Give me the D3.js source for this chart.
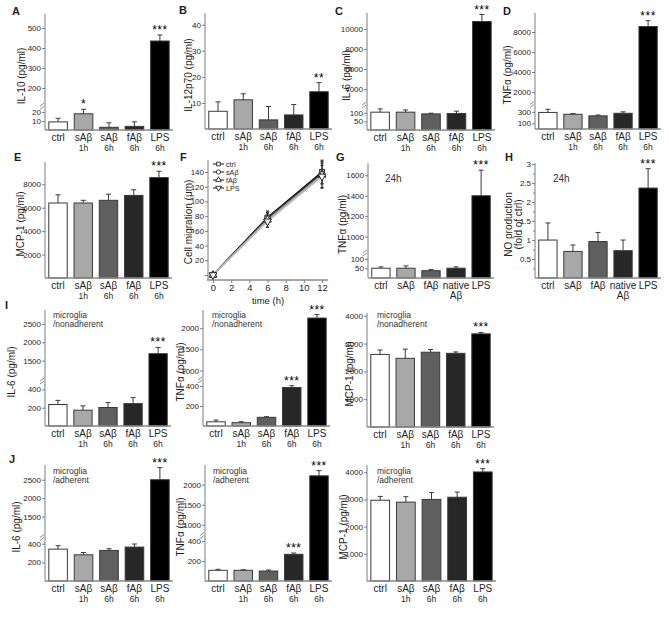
<!DOCTYPE html>
<html>
<head>
<meta charset="utf-8">
<script src="https://cdn.jsdelivr.net/npm/d3@7"></script>
<style>
body { margin: 0; background: #fff; }
svg { font-family: "Liberation Sans", Arial, sans-serif; }
</style>
</head>
<body>
<svg id="fig" width="669" height="618"></svg>
<script>
// categories
var catsTime = [["ctrl"], ["sAβ", "1h"], ["sAβ", "6h"], ["fAβ", "6h"], ["LPS", "6h"]];
var cats24 = [["ctrl"], ["sAβ"], ["fAβ"], ["native", "Aβ"], ["LPS"]];

// row 1-2 values (mean, error)
var il10 = [9, 18, 3, 4, 435], il10Err = [4, 5, 5, 5, 30], il10Stars = ["", "*", "", "", "***"];
var il12 = [6.8, 11.2, 3.5, 5.4, 14.3], il12Err = [3.6, 2.3, 5.1, 4.0, 3.5], il12Stars = ["", "", "", "", "**"];
var il6 = [104, 104, 94, 96, 10750], il6Err = [19, 13, 4, 14, 700];
var tnf = [290, 258, 230, 275, 8550], tnfErr = [55, 12, 15, 25, 580];
var mcp = [6400, 6400, 6630, 7050, 8570], mcpErr = [700, 230, 520, 480, 540];
var tnf24 = [51, 51, 38, 51, 1400], tnf24Err = [7, 12, 6, 7, 250];
var no24 = [1.0, 0.7, 0.96, 0.72, 2.37], no24Err = [0.45, 0.17, 0.24, 0.28, 0.51];
var lpsStars = ["", "", "", "", "***"];

// migration (F)
var migTime = [0, 6, 12];
var migNames = ["ctrl", "sAβ", "fAβ", "LPS"];
var migCtrl = [0, 78, 140], migCtrlErr = [0, 9, 16];
var migSab = [0, 77, 138], migSabErr = [0, 7, 14];
var migFab = [0, 75, 136], migFabErr = [0, 10, 18];
var migLps = [0, 73, 134], migLpsErr = [0, 8, 15];

// row I: nonadherent microglia
var il6Non = [235, 173, 202, 245, 1690], il6NonErr = [45, 47, 54, 65, 170];
var tnfNon = [42, 33, 87, 385, 2240], tnfNonErr = [18, 10, 6, 18, 80];
var mcpNon = [2610, 2470, 2690, 2650, 3350], mcpNonErr = [160, 330, 100, 50, 50];
// row J: adherent microglia
var il6Adh = [342, 281, 328, 364, 2500], il6AdhErr = [37, 25, 18, 33, 330];
var tnfAdh = [107, 107, 100, 267, 2220], tnfAdhErr = [10, 6, 10, 13, 130];
var mcpAdh = [2970, 2900, 3000, 3080, 4010], mcpAdhErr = [140, 200, 250, 190, 120];
var fabLpsStars = ["", "", "", "***", "***"];

// tick labels
var ticksA = [10, 20, 200, 300, 400, 500];
var ticksB = [10, 20, 30, 40];
var ticksC = [50, 100, 4000, 6000, 8000, 10000];
var ticksD = [100, 300, 2000, 4000, 6000, 8000];
var ticksE = [2000, 4000, 6000, 8000];
var ticksFy = [0, 20, 40, 60, 80, 100, 120, 140];
var ticksFx = [0, 2, 4, 6, 8, 10, 12];
var ticksG = [50, 100, 1000, 1200, 1400, 1600];
var ticksH = [0.5, 1, 1.5, 2, 2.5, 3];
var ticksIL6row = [200, 400, 1500, 2000, 2500];
var ticksTNFrow = [200, 400, 1000, 1500, 2000];
var ticksMCProw = [1000, 2000, 3000, 4000];

var svg = d3.select("#fig");
var fontFam = "Liberation Sans, Arial, sans-serif";
var ink = "#1e1e1e", axisCol = "#7d7d7d", barEdge = "#3a3a3a";
var fills = ["#ffffff", "#a8a8a8", "#5f5f5f", "#272727", "#000000"];
var plain = d3.format("");

function letter(t, x, y) {
    svg.append("text").attr("x", x).attr("y", y).attr("font-size", 11)
        .attr("font-weight", "bold").attr("fill", ink).text(t);
}

function styleAxis(a, size) {
    a.attr("font-family", fontFam);
    a.select(".domain").remove();
    a.selectAll("line").attr("stroke", axisCol);
    a.selectAll("text").attr("font-size", size).attr("fill", ink);
}

function yLabel(g, lines, x, cy) {
    lines.forEach(function (t, i) {
        g.append("text")
            .attr("transform", "translate(" + (x + i * 10) + "," + cy + ") rotate(-90)")
            .attr("text-anchor", "middle").attr("dy", "0.35em")
            .attr("font-size", 10).attr("fill", ink).text(t);
    });
}

function barPanel(p) {
    var g = svg.append("g");
    var n = p.values.length;
    var x = d3.scaleBand().domain(d3.range(n)).range([p.ax, p.right])
        .paddingInner(0.27).paddingOuter(0.15);
    var segs = p.segs.map(function (s) { return d3.scaleLinear().domain(s.d).range(s.r); });
    function y(v) {
        for (var i = 0; i < segs.length - 1; i++) {
            if (v <= segs[i].domain()[1]) return segs[i](v);
        }
        return segs[segs.length - 1](v);
    }

    // y axis, one d3 axis per segment
    segs.forEach(function (s) {
        var dom = s.domain();
        var tv = p.ticks.filter(function (t) { return t >= dom[0] && t <= dom[1]; });
        var a = g.append("g").attr("transform", "translate(" + p.ax + ",0)")
            .call(d3.axisLeft(s).tickValues(tv).tickSize(3).tickSizeOuter(0).tickPadding(1).tickFormat(plain));
        styleAxis(a, 8);
        if (p.minor) {
            var m = g.append("g").attr("transform", "translate(" + p.ax + ",0)")
                .call(d3.axisLeft(s).tickValues(p.minor).tickSize(2).tickFormat(""));
            styleAxis(m, 8);
        }
    });
    g.append("line").attr("x1", p.ax).attr("x2", p.ax)
        .attr("y1", p.segs[p.segs.length - 1].r[1]).attr("y2", p.bottom)
        .attr("stroke", axisCol).attr("stroke-width", 1);

    // break marks
    for (var i = 0; i < segs.length - 1; i++) {
        var yb = (p.segs[i].r[1] + p.segs[i + 1].r[0]) / 2;
        [-1.5, 1.5].forEach(function (o) {
            g.append("line").attr("x1", p.ax - 5).attr("y1", yb + o + 1.5)
                .attr("x2", p.ax - 1).attr("y2", yb + o - 1.5)
                .attr("stroke", axisCol).attr("stroke-width", 0.9);
        });
    }

    // bars
    g.selectAll("rect.bar").data(p.values).join("rect").attr("class", "bar")
        .attr("x", function (d, i) { return x(i); })
        .attr("width", x.bandwidth())
        .attr("y", function (d) { return y(d); })
        .attr("height", function (d) { return p.bottom - y(d); })
        .attr("fill", function (d, i) { return fills[i]; })
        .attr("stroke", barEdge).attr("stroke-width", 1);

    // error bars (upper only)
    p.values.forEach(function (d, i) {
        var cx = x(i) + x.bandwidth() / 2;
        var yt = y(d + p.err[i]);
        g.append("line").attr("x1", cx).attr("x2", cx).attr("y1", y(d)).attr("y2", yt)
            .attr("stroke", barEdge).attr("stroke-width", 1);
        g.append("line").attr("x1", cx - 2.5).attr("x2", cx + 2.5).attr("y1", yt).attr("y2", yt)
            .attr("stroke", barEdge).attr("stroke-width", 1);
        if (p.stars && p.stars[i]) {
            g.append("text").attr("x", cx).attr("y", yt - 1).attr("text-anchor", "middle")
                .attr("font-size", 12).attr("letter-spacing", 0.5).attr("fill", "#000")
                .text(p.stars[i]);
        }
    });

    // x axis line
    g.append("line").attr("x1", p.ax).attr("x2", p.right).attr("y1", p.bottom).attr("y2", p.bottom)
        .attr("stroke", "#8a8a8a").attr("stroke-width", 1.6);

    // category labels
    p.cats.forEach(function (c, i) {
        var cx = x(i) + x.bandwidth() / 2;
        c.forEach(function (t, k) {
            g.append("text").attr("x", cx).attr("y", p.bottom + 11 + k * 9.5)
                .attr("text-anchor", "middle")
                .attr("font-size", k === 0 ? 10 : (p.subSize || 8.5))
                .attr("fill", ink).text(t);
        });
    });

    yLabel(g, p.ylabel, p.ylx, (p.segs[p.segs.length - 1].r[1] + p.bottom) / 2 + 4);

    if (p.note) {
        p.note.forEach(function (t, k) {
            g.append("text").attr("x", p.noteX).attr("y", p.noteY + k * 9)
                .attr("font-size", p.noteSize || 8.5).attr("fill", "#333").text(t);
        });
    }
}

function migrationPanel() {
    var g = svg.append("g");
    var ax = 208, top = 160, bottom = 280, right = 328;
    var x = d3.scaleLinear().domain([0, 12]).range([213, 322]);
    var y = d3.scaleLinear().domain([0, 140]).range([275, 172]);

    var ya = g.append("g").attr("transform", "translate(" + ax + ",0)")
        .call(d3.axisLeft(y).tickValues(ticksFy).tickSize(3).tickPadding(1)
            .tickFormat(function (d) { return d === 0 ? "" : d; }));
    styleAxis(ya, 8);
    g.append("line").attr("x1", ax).attr("x2", ax).attr("y1", top).attr("y2", bottom)
        .attr("stroke", axisCol);

    var xa = g.append("g").attr("transform", "translate(0," + bottom + ")")
        .call(d3.axisBottom(x).tickValues(ticksFx).tickSize(3).tickPadding(1));
    styleAxis(xa, 9.5);
    g.append("line").attr("x1", ax - 1).attr("x2", right).attr("y1", bottom).attr("y2", bottom)
        .attr("stroke", "#8a8a8a").attr("stroke-width", 1.6);

    var series = [
        { v: migCtrl, e: migCtrlErr, sym: d3.symbolSquare, rot: 0, col: "#000" },
        { v: migSab, e: migSabErr, sym: d3.symbolCircle, rot: 0, col: "#333" },
        { v: migFab, e: migFabErr, sym: d3.symbolTriangle, rot: 0, col: "#999" },
        { v: migLps, e: migLpsErr, sym: d3.symbolTriangle, rot: 180, col: "#bbb" }
    ];
    var line = d3.line().x(function (d, i) { return x(migTime[i]); }).y(function (d) { return y(d); });
    series.forEach(function (s) {
        g.append("path").datum(s.v).attr("d", line).attr("fill", "none")
            .attr("stroke", s.col).attr("stroke-width", 1.6);
    });
    series.forEach(function (s) {
        s.v.forEach(function (d, i) {
            if (s.e[i] > 0) {
                var cx = x(migTime[i]);
                g.append("line").attr("x1", cx).attr("x2", cx).attr("y1", y(d - s.e[i])).attr("y2", y(d + s.e[i]))
                    .attr("stroke", "#333").attr("stroke-width", 0.8);
                [d - s.e[i], d + s.e[i]].forEach(function (t) {
                    g.append("line").attr("x1", cx - 1.5).attr("x2", cx + 1.5).attr("y1", y(t)).attr("y2", y(t))
                        .attr("stroke", "#333").attr("stroke-width", 1.2);
                });
            }
        });
    });
    series.forEach(function (s) {
        s.v.forEach(function (d, i) {
            g.append("path").attr("d", d3.symbol().type(s.sym).size(26)())
                .attr("transform", "translate(" + x(migTime[i]) + "," + y(d) + ") rotate(" + s.rot + ")")
                .attr("fill", "#fff").attr("stroke", "#111").attr("stroke-width", 0.9);
        });
    });

    // legend
    migNames.forEach(function (name, i) {
        var ly = 164 + i * 8;
        g.append("line").attr("x1", 213).attr("x2", 224).attr("y1", ly).attr("y2", ly)
            .attr("stroke", "#111").attr("stroke-width", 1);
        g.append("path").attr("d", d3.symbol().type(series[i].sym).size(14)())
            .attr("transform", "translate(218.5," + ly + ") rotate(" + series[i].rot + ")")
            .attr("fill", "#fff").attr("stroke", "#111").attr("stroke-width", 0.8);
        g.append("text").attr("x", 226).attr("y", ly + 2.6).attr("font-size", 7.2)
            .attr("fill", ink).text(name);
    });

    g.append("text").attr("x", 268).attr("y", 304).attr("text-anchor", "middle")
        .attr("font-size", 9.5).attr("fill", ink).text("time (h)");
    yLabel(g, ["Cell migration (μm)"], 188, 222);
}

// row 1
barPanel({ ax: 45, right: 173, bottom: 130, values: il10, err: il10Err, stars: il10Stars, cats: catsTime,
    segs: [{ d: [0, 25], r: [130, 107.5] }, { d: [115, 570], r: [105, 14] }], ticks: ticksA,
    ylabel: ["IL-10 (pg/ml)"], ylx: 21 });
barPanel({ ax: 205, right: 332, bottom: 129, values: il12, err: il12Err, stars: il12Stars, cats: catsTime,
    segs: [{ d: [0, 44.5], r: [129, 13] }], ticks: ticksB,
    ylabel: ["IL-12p70 (pg/ml)"], ylx: 188 });
barPanel({ ax: 367, right: 495, bottom: 130, values: il6, err: il6Err, stars: lpsStars, cats: catsTime,
    segs: [{ d: [0, 140], r: [130, 106] }, { d: [2500, 11600], r: [104, 13] }], ticks: ticksC,
    ylabel: ["IL-6 (pg/ml)"], ylx: 346 });
barPanel({ ax: 535, right: 661, bottom: 129, values: tnf, err: tnfErr, stars: lpsStars, cats: catsTime,
    segs: [{ d: [0, 420], r: [129, 105] }, { d: [800, 9900], r: [104, 13] }], ticks: ticksD,
    ylabel: ["TNFα (pg/ml)"], ylx: 507 });

// row 2
barPanel({ ax: 45, right: 172, bottom: 278, values: mcp, err: mcpErr, stars: lpsStars, cats: catsTime,
    segs: [{ d: [0, 9900], r: [278, 162] }], ticks: ticksE,
    ylabel: ["MCP-1 (pg/ml)"], ylx: 20 });
migrationPanel();
barPanel({ ax: 368, right: 494, bottom: 278, values: tnf24, err: tnf24Err, stars: lpsStars, cats: cats24,
    segs: [{ d: [0, 125], r: [278, 254] }, { d: [850, 1720], r: [252, 163] }], ticks: ticksG,
    ylabel: ["TNFα (pg/ml)"], ylx: 342, subSize: 10,
    note: ["24h"], noteX: 385, noteY: 182, noteSize: 10 });
barPanel({ ax: 535, right: 661, bottom: 278, values: no24, err: no24Err, stars: lpsStars, cats: cats24,
    segs: [{ d: [0, 3.03], r: [278, 163] }], ticks: ticksH, minor: [0.25, 0.75, 1.25, 1.75, 2.25, 2.75],
    ylabel: ["NO production", "(fold of ctrl)"], ylx: 508, subSize: 10,
    note: ["24h"], noteX: 553, noteY: 182, noteSize: 10 });

// row I
var noteNon = ["microglia", "/nonadherent"];
barPanel({ ax: 45, right: 171, bottom: 426, values: il6Non, err: il6NonErr, stars: lpsStars, cats: catsTime,
    segs: [{ d: [0, 470], r: [426, 383] }, { d: [1000, 2880], r: [379, 310] }], ticks: ticksIL6row,
    ylabel: ["IL-6 (pg/ml)"], ylx: 11, note: noteNon, noteX: 53, noteY: 318 });
barPanel({ ax: 203, right: 330, bottom: 426, values: tnfNon, err: tnfNonErr, stars: fabLpsStars, cats: catsTime,
    segs: [{ d: [0, 450], r: [426, 381] }, { d: [800, 2430], r: [379, 310] }], ticks: ticksTNFrow,
    ylabel: ["TNFα (pg/ml)"], ylx: 180, note: noteNon, noteX: 212, noteY: 318 });
barPanel({ ax: 367, right: 494, bottom: 427, values: mcpNon, err: mcpNonErr, stars: lpsStars, cats: catsTime,
    segs: [{ d: [0, 4100], r: [427, 313] }], ticks: ticksMCProw,
    ylabel: ["MCP-1 (pg/ml)"], ylx: 349, note: noteNon, noteX: 377, noteY: 318 });

// row J
var noteAdh = ["microglia", "/adherent"];
barPanel({ ax: 45, right: 173, bottom: 581, values: il6Adh, err: il6AdhErr, stars: lpsStars, cats: catsTime,
    segs: [{ d: [0, 440], r: [581, 540] }, { d: [1000, 2900], r: [535, 465] }], ticks: ticksIL6row,
    ylabel: ["IL-6 (pg/ml)"], ylx: 16, note: noteAdh, noteX: 53, noteY: 474 });
barPanel({ ax: 205, right: 332, bottom: 581, values: tnfAdh, err: tnfAdhErr, stars: fabLpsStars, cats: catsTime,
    segs: [{ d: [0, 440], r: [581, 537] }, { d: [770, 2490], r: [534, 465] }], ticks: ticksTNFrow,
    ylabel: ["TNFα (pg/ml)"], ylx: 180, note: noteAdh, noteX: 213, noteY: 474 });
barPanel({ ax: 367, right: 496, bottom: 581, values: mcpAdh, err: mcpAdhErr, stars: lpsStars, cats: catsTime,
    segs: [{ d: [0, 4265], r: [581, 465] }], ticks: ticksMCProw,
    ylabel: ["MCP-1 (pg/ml)"], ylx: 343, note: noteAdh, noteX: 377, noteY: 474 });

// panel letters
letter("A", 12, 15); letter("B", 179, 14); letter("C", 335, 15); letter("D", 503, 15);
letter("E", 14, 161); letter("F", 180, 161); letter("G", 336, 161); letter("H", 505, 161);
letter("I", 5, 309); letter("J", 9, 463);
</script>
</body>
</html>
